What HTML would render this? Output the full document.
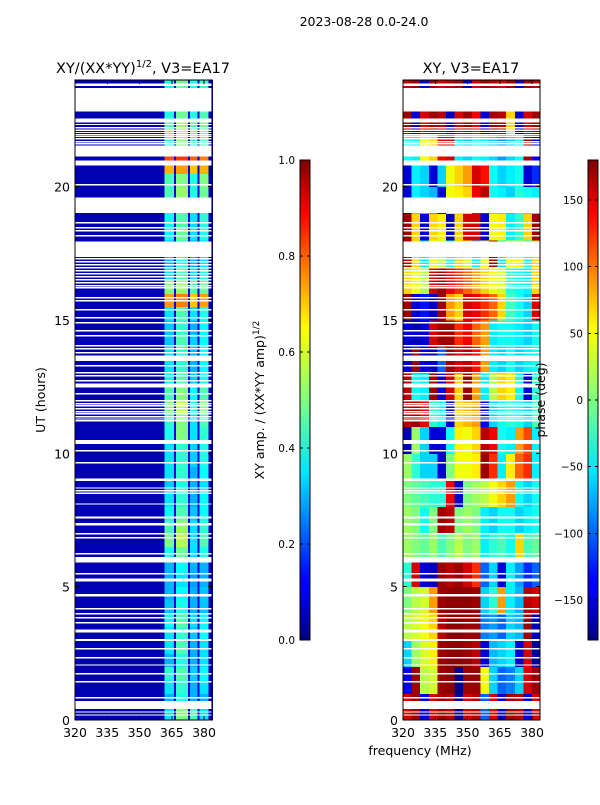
<!DOCTYPE html>
<html><head><meta charset="utf-8"><style>
body{margin:0;background:#fff}
svg text{font-family:"DejaVu Sans","Liberation Sans",sans-serif;fill:#000}
</style></head><body>
<svg id="fig" width="600" height="800" viewBox="0 0 600 800" xmlns="http://www.w3.org/2000/svg" shape-rendering="crispEdges">
<defs>
<linearGradient id="jetV" x1="0" y1="1" x2="0" y2="0">
<stop offset="0" stop-color="#00007f"/><stop offset="0.11" stop-color="#0000ff"/><stop offset="0.125" stop-color="#0000ff"/><stop offset="0.35" stop-color="#00e5ff"/><stop offset="0.5" stop-color="#7fff7f"/><stop offset="0.65" stop-color="#ffff00"/><stop offset="0.89" stop-color="#ff0000"/><stop offset="1" stop-color="#7f0000"/>
</linearGradient>
</defs>
<text x="364" y="26" font-size="12.5" text-anchor="middle">2023-08-28 0.0-24.0</text>
<text x="143" y="73" font-size="14.5" text-anchor="middle">XY/(XX*YY)<tspan font-size="10" dy="-6">1/2</tspan><tspan dy="6">, V3=EA17</tspan></text>
<text x="471" y="73" font-size="14.5" text-anchor="middle">XY, V3=EA17</text>
<text transform="translate(45,400) rotate(-90)" font-size="12.5" text-anchor="middle">UT (hours)</text>
<text x="420" y="755" font-size="12.5" text-anchor="middle">frequency (MHz)</text>
<text transform="translate(264,400) rotate(-90)" font-size="12.5" text-anchor="middle">XY amp. / (XX*YY amp)<tspan font-size="9" dy="-5">1/2</tspan></text>
<g id="ampAx"></g>
<g id="phAx"></g>
<g id="cb1"></g>
<g id="cb2"></g>
<text transform="translate(545,400) rotate(-90)" font-size="12.5" text-anchor="middle">phase (deg)</text>
</svg>
<script>
// ---- data ----
const ampBinEdges=[320,361.5,366,367,372.5,373.5,377,378,382,384];
const ampBandCols=[1,3,5,7];
const ampOffLevels=[0.05,null,0.1,null,0.1,null,0.1,null,0.05];
const ampBands=[
[0.35,0.5,0.45,0.35],[0.3,0.4,0.3,0.3],[0.35,0.42,0.3,0.35],[0.42,0.45,0.33,0.38],
[0.3,0.4,0.3,0.35],[0.35,0.45,0.3,0.35],[0.35,0.42,0.32,0.38],[0.38,0.45,0.35,0.38],
[0.32,0.4,0.3,0.32],[0.3,0.38,0.3,0.32],[0.3,0.35,0.28,0.3],[0.3,0.38,0.3,0.3],
[0.4,0.48,0.35,0.4],[0.5,0.55,0.35,0.45],[0.45,0.52,0.35,0.42],[0.38,0.45,0.32,0.38],
[0.35,0.42,0.3,0.38],[0.32,0.4,0.3,0.35],[0.35,0.42,0.3,0.38],[0.35,0.42,0.33,0.4],
[0.35,0.42,0.33,0.4],[0.4,0.5,0.35,0.42],[0.42,0.5,0.35,0.45],[0.5,0.55,0.4,0.5],
[0.45,0.5,0.38,0.45],[0.38,0.45,0.33,0.4],[0.35,0.42,0.3,0.38],[0.35,0.42,0.3,0.38],
[0.32,0.45,0.33,0.38],[0.32,0.42,0.3,0.38],[0.35,0.45,0.35,0.4],[0.72,0.75,0.68,0.72],
[0.5,0.52,0.45,0.48],[0.35,0.45,0.35,0.4],[0.3,0.4,0.3,0.35],[0.3,0.4,0.3,0.35],
[0.38,0.48,0.35,0.4],[0.38,0.45,0.35,0.42],[0.38,0.45,0.35,0.4],[0.45,0.52,0.4,0.48],
[0.45,0.5,0.4,0.5],[0.7,0.72,0.68,0.7],[0.8,0.82,0.78,0.75],[0.42,0.5,0.42,0.45],
[0.45,0.52,0.45,0.48],[0.4,0.48,0.4,0.45],[0.4,0.45,0.4,0.42],[0.4,0.48,0.4,0.42]];
const phFreqEdges=[320,324,328,332,336,340,344,348,352,356,360,364,368,372,376,380,384];
const phase=[
[150,170,-150,150,170,160,-170,150,160,-100,150,-150,170,160,-150,150],
[-140,170,20,30,170,175,-175,170,170,40,-60,-100,-90,-60,150,170],
[-60,10,30,50,170,175,175,170,160,-150,-70,-60,-50,-150,150,-170],
[20,30,40,60,160,175,175,170,170,-90,-80,-100,-60,-70,170,-160],
[0,20,30,80,170,175,175,175,170,-60,-30,80,-50,-70,160,150],
[-30,150,-150,-160,170,160,170,150,120,-100,-60,-150,-50,-80,-120,-100],
[10,0,-10,10,-20,0,20,0,10,-50,-30,-20,-40,60,-20,-10],
[10,0,-40,0,170,160,0,10,0,-50,-60,-40,-40,-60,-50,-40],
[0,-10,-20,-30,-30,140,-150,0,10,20,40,60,80,-40,-60,-40],
[10,-30,-60,-60,-150,0,40,40,50,170,120,-50,50,100,120,-50],
[-160,10,-60,-150,-150,-40,50,40,60,160,140,-40,-50,80,110,-50],
[160,170,140,-30,-50,-150,60,70,80,-140,-60,-40,-30,-40,-60,-20],
[160,-40,-50,170,-150,150,60,170,80,-50,20,60,50,-40,-150,-30],
[-150,170,-150,-160,-100,170,150,160,130,80,-50,-60,-40,-60,-50,-40],
[-150,-160,-150,150,170,170,120,140,100,80,-50,-40,-40,-50,-60,-40],
[170,-150,-130,-160,170,80,60,150,140,120,100,60,-20,-40,-60,150],
[60,40,20,150,170,140,120,100,80,60,40,30,-30,-40,-50,60],
[160,60,-50,40,20,-40,60,30,-50,40,170,-50,40,50,-40,60],
[170,60,-150,60,50,-160,60,150,150,-150,40,50,-50,-30,60,170],
[-150,-50,-60,-70,-150,40,50,60,140,160,-40,-50,-60,-30,-40,-50],
[-150,-50,-60,-150,-60,40,60,80,150,130,-40,-60,-50,-40,-150,-120],
[-40,-50,40,60,140,150,-50,-60,-40,-50,-60,-80,-60,-40,170,-150],
[170,-150,150,170,160,-160,150,170,140,-150,170,160,60,-150,150,170],
[160,170,-150,170,150,160,170,-160,150,170,160,150,170,-150,170,160]];
const flagSpans=[[23.45,23.7],[23.78,23.87],[22.81,23.49],[22.4,22.55],[21.13,21.54],[20.8,20.98],[19.02,19.59],[17.37,17.95],[5.9,6.12],[6.2,6.27],[5.2,5.3],[4.63,4.73],[3.28,3.4],[2.97,3.04],[0.41,0.71],[10.35,10.5],[8.97,9.05],[7.55,7.63],[7.3,7.38],[13.47,13.66],[12.46,12.61]];
const flagLines=[22.33,22.21,22.12,22.03,21.95,21.88,21.8,21.69,21.61,20.07,18.65,18.46,18.35,18.16,17.3,17.19,17.07,16.96,16.85,16.74,16.62,16.51,16.4,16.28,16.21,15.83,15.72,15.38,15.08,14.9,14.6,14.41,14.03,13.92,13.77,13.28,13.02,12.91,12.72,12.23,11.97,11.86,11.78,11.67,11.56,11.48,11.37,11.29,11.22,10.1,9.65,8.7,8.6,8.5,8.1,6.98,6.83,5.48,4.17,3.98,3.83,3.65,2.67,2.33,2.06,1.73,1.43,0.83,0.3,0.19];
const xTicks=[320,335,350,365,380];
const yTicks=[0,5,10,15,20];
const ampCbTicks=[0,0.2,0.4,0.6,0.8,1.0];
const phCbTicks=[-150,-100,-50,0,50,100,150];
// ---- helpers ----
const NS="http://www.w3.org/2000/svg";
function mk(p,tag,a){const e=document.createElementNS(NS,tag);for(const k in a)e.setAttribute(k,a[k]);p.appendChild(e);return e;}
function cl(v){return Math.max(0,Math.min(1,v));}
function jet(x){x=cl(x);const r=cl(1.5-Math.abs(4*x-3)),g=cl(1.5-Math.abs(4*x-2)),b=cl(1.5-Math.abs(4*x-1));return `rgb(${Math.round(r*255)},${Math.round(g*255)},${Math.round(b*255)})`;}
const Y0=80,Y1=720,T0=0,T1=24,F0=320,F1=383.7;
function yS(h){return Y1-(h-T0)/(T1-T0)*(Y1-Y0);}
function makeX(x0,x1){return f=>x0+(f-F0)/(F1-F0)*(x1-x0);}
function axes(g,x0,x1,xS){
  mk(g,'rect',{x:x0,y:Y0,width:x1-x0,height:Y1-Y0,fill:'none',stroke:'#000','stroke-width':1});
  xTicks.forEach(t=>{const x=xS(t);
    const a=mk(g,'line',{x1:x,x2:x,y1:Y1,y2:Y1-4,stroke:'#000'});
    mk(g,'line',{x1:x,x2:x,y1:Y0,y2:Y0+4,stroke:'#000'});
    const tx=mk(g,'text',{x:x,y:Y1+17,'font-size':12.5,'text-anchor':'middle'});tx.textContent=t;
    });
  yTicks.forEach(t=>{const y=yS(t);
    mk(g,'line',{x1:x0,x2:x0+4,y1:y,y2:y,stroke:'#000'});mk(g,'line',{x1:x1,x2:x1-4,y1:y,y2:y,stroke:'#000'});
    const tx=mk(g,'text',{x:x0-5,y:y+5,'font-size':12.5,'text-anchor':'end'});tx.textContent=t;
    });
}
function flags(g,x0,x1){
  flagSpans.forEach(s=>{const r=mk(g,'rect',{x:x0,y:yS(s[1]),width:x1-x0,height:yS(s[0])-yS(s[1]),fill:'#fff'});
    });
  flagLines.forEach(h=>{const r=mk(g,'rect',{x:x0,y:yS(h+0.025),width:x1-x0,height:yS(h-0.025)-yS(h+0.025),fill:'#fff'});
    });
}
// amp panel
(function(){const g=document.getElementById('ampAx');const x0=75,x1=212,xS=makeX(x0,x1);
  ampBands.forEach((row,i)=>{const ya=yS(i*0.5+0.5),yb=yS(i*0.5);
    for(let c=0;c<ampBinEdges.length-1;c++){
      const bi=ampBandCols.indexOf(c);const v=bi>=0?row[bi]:ampOffLevels[c];
      const r=mk(g,'rect',{x:xS(ampBinEdges[c]),y:ya,width:xS(ampBinEdges[c+1])-xS(ampBinEdges[c])+0.5,height:yb-ya+0.5,fill:jet(v)});
      }
  });
  flags(g,x0,x1);axes(g,x0,x1,xS);})();
// phase panel
(function(){const g=document.getElementById('phAx');const x0=403,x1=540,xS=makeX(x0,x1);
  phase.forEach((row,i)=>{const ya=yS(i+1),yb=yS(i);
    row.forEach((v,c)=>{const r=mk(g,'rect',{x:xS(phFreqEdges[c]),y:ya,width:Math.min(xS(phFreqEdges[c+1]),x1)-xS(phFreqEdges[c])+0.5,height:yb-ya+0.5,fill:jet((v+180)/360)});
      });
  });
  flags(g,x0,x1);axes(g,x0,x1,xS);})();
// colorbars
function colorbar(id,x,vmin,vmax,ticks,fmt){const g=document.getElementById(id);const top=160,bot=640;
  mk(g,'rect',{x:x,y:top,width:10,height:bot-top,fill:'url(#jetV)',stroke:'#000','stroke-width':1});
  ticks.forEach(t=>{const y=bot-(t-vmin)/(vmax-vmin)*(bot-top);
    mk(g,'line',{x1:x,x2:x+3,y1:y,y2:y,stroke:'#000'});mk(g,'line',{x1:x+10,x2:x+7,y1:y,y2:y,stroke:'#000'});
    const tx=mk(g,'text',{x:x-5,y:y+4,'font-size':10.5,'text-anchor':'end'});tx.textContent=fmt(t);
    });
}
colorbar('cb1',300,0,1,ampCbTicks,t=>t.toFixed(1));
colorbar('cb2',588,-180,180,phCbTicks,t=>(t<0?'\u2212'+(-t):''+t));
</script>
</body></html>
